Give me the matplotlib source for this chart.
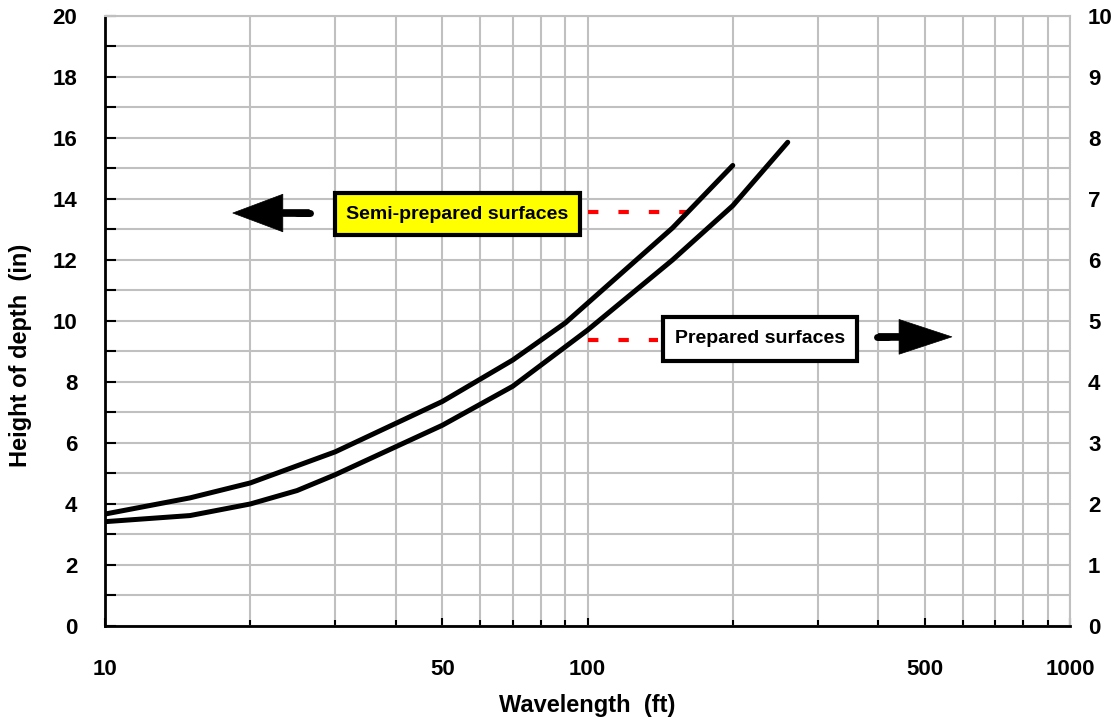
import numpy as np
import matplotlib
matplotlib.use('Agg')
import matplotlib.pyplot as plt
import matplotlib.ticker as mtick
from matplotlib.patches import Rectangle

plt.rcParams["font.family"] = ["Liberation Sans", "DejaVu Sans"]
plt.rcParams["font.weight"] = "bold"

# semi-prepared surfaces (left axis, inches)
wavelength_semi = [10, 15, 20, 30, 50, 70, 90, 150, 200]
depth_semi = [3.67, 4.2, 4.69, 5.71, 7.36, 8.72, 9.94, 13.05, 15.1]

# prepared surfaces (right axis)
wavelength_prep = [10, 15, 20, 25, 30, 50, 70, 100, 150, 200, 260]
depth_prep = [1.71, 1.81, 2.0, 2.22, 2.48, 3.29, 3.93, 4.85, 6.0, 6.89, 7.93]

xtick_vals = [10, 50, 100, 500, 1000]
xtick_labels = ["10", "50", "100", "500", "1000"]
left_ticks = list(range(0, 21, 2))
right_ticks = list(range(0, 11))

grid_col = "#c0c0c0"

fig = plt.figure(figsize=(11.14, 7.24), dpi=100)
ax = fig.add_axes([0.0943, 0.1354, 0.8662, 0.8425])

ax.set_xscale("log")
ax.set_xlim(10, 1000)
ax.set_ylim(0, 20)
ax.set_xticks(xtick_vals)
ax.set_xticklabels(xtick_labels)
ax.xaxis.set_minor_locator(mtick.LogLocator(base=10, subs=range(2, 10), numticks=20))
ax.xaxis.set_minor_formatter(mtick.NullFormatter())
ax.set_yticks(left_ticks)
ax.yaxis.set_minor_locator(mtick.MultipleLocator(1))

ax.grid(which="both", color=grid_col, lw=1.5)
ax.set_axisbelow(True)

ax.tick_params(axis="x", which="major", direction="in", length=6, width=1.5, pad=24, labelsize=16)
ax.tick_params(axis="x", which="minor", direction="in", length=4.5, width=1.5)
ax.tick_params(axis="y", which="both", direction="in", length=8, width=1.5, pad=20, labelsize=16)

for s in ["top", "right"]:
    ax.spines[s].set_color(grid_col)
    ax.spines[s].set_linewidth(1.5)
for s in ["left", "bottom"]:
    ax.spines[s].set_color("black")
    ax.spines[s].set_linewidth(2)

ax.set_xlabel("Wavelength  (ft)", fontsize=17, fontweight="bold")
ax.xaxis.set_label_coords(0.5, -0.112)
ax.set_ylabel("Height of depth  (in)", fontsize=17, fontweight="bold")
ax.yaxis.set_label_coords(-0.076, 0.444)

# curves
ax.plot(wavelength_semi, depth_semi, color="black", lw=3.6,
        solid_capstyle="round", solid_joinstyle="round", zorder=4)

ax2 = ax.twinx()
ax2.set_ylim(0, 10)
ax2.set_yticks(right_ticks)
ax2.tick_params(axis="y", length=0, pad=13, labelsize=16)
for s in ax2.spines.values():
    s.set_visible(False)
ax2.plot(wavelength_prep, depth_prep, color="black", lw=3.6,
         solid_capstyle="round", solid_joinstyle="round", zorder=4)

# semi-prepared label
ax.add_patch(Rectangle((30.0, 12.82), 96.5 - 30.0, 14.2 - 12.82, fc="#ffff00", ec="black", lw=3, zorder=5))
ax.text(53.6, 13.5, "Semi-prepared surfaces", ha="center", va="center", fontsize=14, fontweight="bold", zorder=6)
ax.plot([100, 162], [13.57, 13.57], color="red", lw=3, ls=(0, (2.5, 4.8)), zorder=3)
ax.annotate("", xy=(18.4, 13.54), xytext=(26.5, 13.54),
            arrowprops=dict(arrowstyle="simple,head_length=3.6,head_width=2.7,tail_width=0.5",
                            mutation_scale=10, fc="black", ec="black", lw=0.5, shrinkA=0, shrinkB=0))
ax.plot([25.0, 26.6], [13.54, 13.54], color="black", lw=5, solid_capstyle="round")

# prepared label
ax.add_patch(Rectangle((143.4, 8.69), 361.8 - 143.4, 10.13 - 8.69, fc="white", ec="black", lw=3, zorder=5))
ax.text(227.8, 9.41, "Prepared surfaces", ha="center", va="center", fontsize=14, fontweight="bold", zorder=6)
ax.plot([100, 140], [9.38, 9.38], color="red", lw=3, ls=(0, (2.5, 4.8)), zorder=3)
ax.annotate("", xy=(569, 9.48), xytext=(401, 9.48),
            arrowprops=dict(arrowstyle="simple,head_length=3.8,head_width=2.5,tail_width=0.5",
                            mutation_scale=10, fc="black", ec="black", lw=0.5, shrinkA=0, shrinkB=0))
ax.plot([398, 420], [9.48, 9.48], color="black", lw=5, solid_capstyle="round")

plt.savefig("out.png", dpi=100)
plt.close()
